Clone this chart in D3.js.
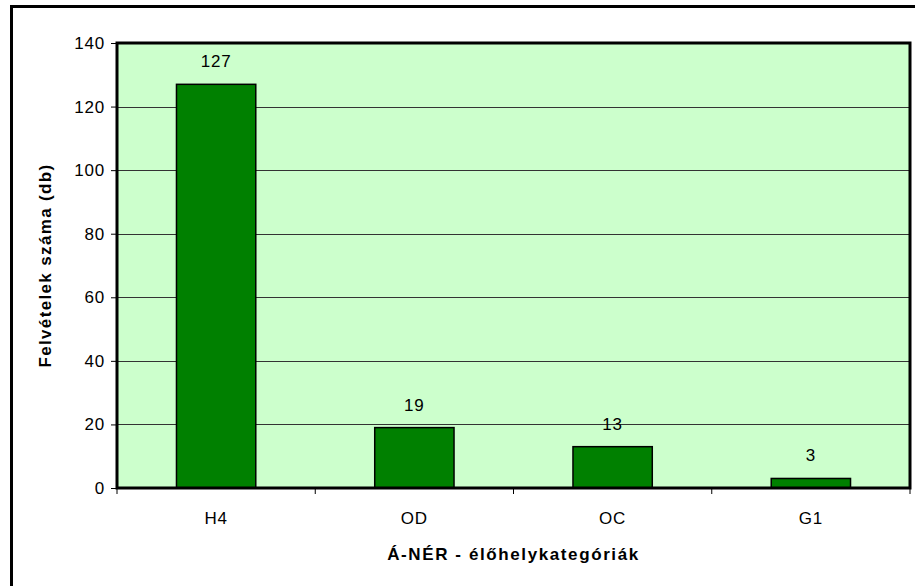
<!DOCTYPE html>
<html><head><meta charset="utf-8">
<script src="https://cdn.jsdelivr.net/npm/d3@7"></script>
<style>body{margin:0;background:#fff}svg{display:block}text{font-family:"Liberation Sans",Arial,sans-serif}</style>
</head><body><svg id="c" width="915" height="586"></svg>
<script>
const categories = ["H4","OD","OC","G1"];
const values = [127,19,13,3];
const yTicks = [0,20,40,60,80,100,120,140];
const yTitle = "Felvételek száma (db)";
const xTitle = "Á-NÉR - élőhelykategóriák";

const svg = d3.select("#c");
const L=117, R=910, T=43, B=488;
svg.append("rect").attr("x",11.5).attr("y",6.5).attr("width",1000).attr("height",1000)
  .attr("fill","none").attr("stroke","#000").attr("stroke-width",3);
const x = d3.scaleBand().domain(categories).range([L,R]).paddingInner(0.6).paddingOuter(0.3);
const xb = d3.scaleBand().domain(categories).range([L,R]);
const y = d3.scaleLinear().domain([0,140]).range([B,T]);
svg.append("rect").attr("x",L).attr("y",T).attr("width",R-L).attr("height",B-T).attr("fill","#CCFFCC");
svg.append("g").selectAll("line").data(yTicks.filter(d=>d>0&&d<140)).join("line")
  .attr("x1",L).attr("x2",R).attr("y1",d=>Math.round(y(d))+0.5).attr("y2",d=>Math.round(y(d))+0.5)
  .attr("stroke","#333").attr("stroke-width",1);
svg.append("g").selectAll("rect").data(values).join("rect")
  .attr("x",(d,i)=>x(categories[i])).attr("width",x.bandwidth())
  .attr("y",d=>y(d)).attr("height",d=>B-y(d))
  .attr("fill","#008000").attr("stroke","#000").attr("stroke-width",1.5);
svg.append("g").selectAll("text").data(values).join("text")
  .attr("x",(d,i)=>x(categories[i])+x.bandwidth()/2).attr("y",d=>y(d)-17)
  .attr("text-anchor","middle").attr("font-size",17).attr("letter-spacing","0.8px").text(d=>d);
svg.append("rect").attr("x",L).attr("y",T).attr("width",R-L).attr("height",B-T)
  .attr("fill","none").attr("stroke","#000").attr("stroke-width",3);
const ya = d3.axisLeft(y).tickValues(yTicks).tickSize(6).tickPadding(6);
const gy = svg.append("g").attr("transform",`translate(${L},0)`).call(ya);
gy.select(".domain").remove();
gy.selectAll("text").attr("font-size",17).attr("fill","#000").attr("letter-spacing","0.8px").style("font-family","Liberation Sans, Arial");
gy.selectAll("line").attr("stroke","#000");
const xa = d3.axisBottom(xb).tickSize(0).tickPadding(24);
const gx = svg.append("g").attr("transform",`translate(0,${B})`).call(xa);
gx.select(".domain").remove();
gx.selectAll("text").attr("font-size",17).attr("fill","#000").attr("letter-spacing","0.8px").style("font-family","Liberation Sans, Arial");
svg.append("g").selectAll("line").data(categories.concat(["end"])).join("line")
  .attr("x1",(d,i)=>L+i*xb.bandwidth()).attr("x2",(d,i)=>L+i*xb.bandwidth())
  .attr("y1",B).attr("y2",B+6).attr("stroke","#000");
svg.append("text").attr("x",(L+R)/2).attr("y",560).attr("text-anchor","middle")
  .attr("font-size",17).attr("font-weight","bold").attr("letter-spacing","1.6px").text(xTitle);
svg.append("text").attr("transform",`translate(51,${(T+B)/2}) rotate(-90)`).attr("text-anchor","middle")
  .attr("font-size",17).attr("font-weight","bold").attr("letter-spacing","1.35px").text(yTitle);
</script></body></html>
